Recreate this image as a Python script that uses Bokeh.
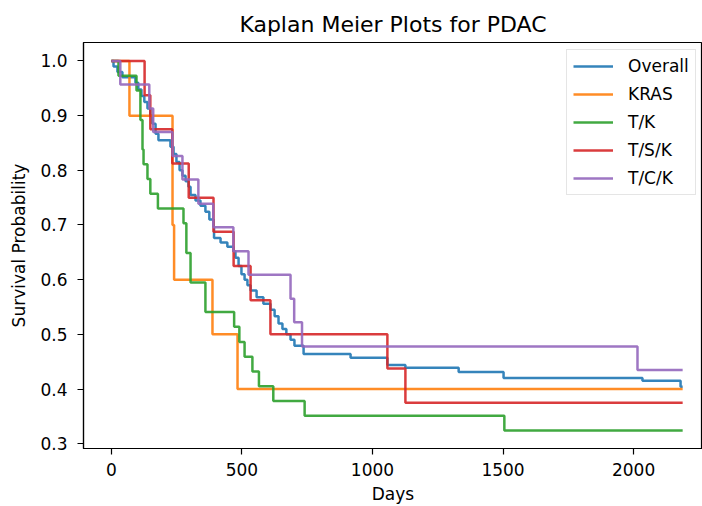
from bokeh.plotting import figure
from bokeh.models import Range1d, FixedTicker, PrintfTickFormatter, Legend, LegendItem
from bokeh.embed import file_html
from bokeh.resources import INLINE

# ---- data ----
overall_days = [0, 8, 23, 42, 92, 103, 115, 126, 138, 149, 157, 169, 180, 226, 238,
                249, 261, 272, 284, 295, 303, 322, 341, 360, 375, 391, 393, 418, 444, 467,
                475, 487, 498, 510, 521, 533, 556, 582, 609, 625, 640, 655, 670, 686, 701,
                736, 916, 1057, 1126, 1330, 1502, 2034, 2180, 2188]
overall_surv = [1.0, 0.99, 0.98, 0.97, 0.96, 0.948, 0.936, 0.925, 0.913, 0.9, 0.885, 0.867, 0.855, 0.843, 0.83,
                0.815, 0.80, 0.79, 0.78, 0.77, 0.755, 0.745, 0.735, 0.724, 0.71, 0.697, 0.676, 0.668, 0.66, 0.652,
                0.64, 0.625, 0.61, 0.6, 0.59, 0.58, 0.568, 0.556, 0.545, 0.533, 0.52, 0.51, 0.50, 0.49, 0.479,
                0.464, 0.457, 0.444, 0.439, 0.431, 0.42, 0.415, 0.404, 0.404]

kras_days = [0, 69, 234, 240, 387, 483, 2188]
kras_surv = [1.0, 0.9, 0.7, 0.6, 0.5, 0.4, 0.4]

tk_days = [0, 27, 96, 111, 119, 123, 138, 149, 178, 276, 287, 303, 360, 470, 490,
           510, 540, 565, 620, 740, 1505, 2188]
tk_surv = [1.0, 0.973, 0.946, 0.892, 0.838, 0.811, 0.784, 0.757, 0.730, 0.703, 0.649, 0.595, 0.541, 0.514, 0.486,
           0.459, 0.432, 0.405, 0.378, 0.351, 0.324, 0.324]

tsk_days = [0, 127, 149, 233, 296, 391, 468, 533, 609, 1057, 1126, 2188]
tsk_surv = [1.0, 0.9375, 0.875, 0.8125, 0.75, 0.6875, 0.625, 0.5625, 0.5, 0.4375, 0.375, 0.375]

tck_days = [0, 34, 145, 160, 234, 272, 333, 390, 467, 525, 686, 700, 730, 2015, 2188]
tck_surv = [1.0, 0.957, 0.913, 0.870, 0.826, 0.783, 0.739, 0.696, 0.652, 0.609, 0.565, 0.522, 0.478, 0.435, 0.435]

labels = ["Overall", "KRAS", "T/K", "T/S/K", "T/C/K"]
colors = ["#1f77b4", "#ff7f0e", "#2ca02c", "#d62728", "#9467bd"]
x_ticks = [0, 500, 1000, 1500, 2000]
y_ticks = [0.3, 0.4, 0.5, 0.6, 0.7, 0.8, 0.9, 1.0]

FONT = "DejaVu Sans"

p = figure(width=702, height=506, output_backend="svg", toolbar_location=None,
           title="Kaplan Meier Plots for PDAC",
           x_range=Range1d(-107, 2264), y_range=Range1d(0.29125, 1.03375),
           min_border_left=83, min_border_right=0, min_border_top=42, min_border_bottom=57)

p.title.align = "center"
p.title.text_font = FONT
p.title.text_font_size = "22px"
p.title.text_font_style = "normal"
p.title.text_color = "black"
p.title.standoff = 12

p.grid.visible = False
p.outline_line_color = "black"
p.outline_line_width = 1.2

for ax in (p.xaxis[0], p.yaxis[0]):
    ax.axis_line_color = "black"
    ax.axis_line_width = 1.2
    ax.major_tick_line_color = "black"
    ax.major_tick_line_width = 1.2
    ax.major_tick_out = 6
    ax.major_tick_in = 0
    ax.minor_tick_out = 0
    ax.minor_tick_line_color = None
    ax.major_label_text_font = FONT
    ax.major_label_text_font_size = "17px"
    ax.major_label_text_color = "black"
    ax.axis_label_text_font = FONT
    ax.axis_label_text_font_size = "17px"
    ax.axis_label_text_font_style = "normal"
    ax.axis_label_text_color = "black"

p.xaxis.ticker = FixedTicker(ticks=x_ticks)
p.yaxis.ticker = FixedTicker(ticks=y_ticks)
p.yaxis.formatter = PrintfTickFormatter(format="%.1f")
p.xaxis.axis_label = "Days"
p.yaxis.axis_label = "Survival Probability"
p.xaxis.major_label_standoff = 8
p.xaxis.axis_label_standoff = 5
p.yaxis.major_label_standoff = 10
p.yaxis.axis_label_standoff = 8

series = [(overall_days, overall_surv), (kras_days, kras_surv), (tk_days, tk_surv),
          (tsk_days, tsk_surv), (tck_days, tck_surv)]
items = []
for (d, s), lab, c in zip(series, labels, colors):
    r = p.step(d, s, mode="after", line_color=c, line_width=2.5, line_alpha=0.9)
    items.append(LegendItem(label=lab, renderers=[r]))

legend = Legend(items=items, location=(483, 253))
legend.label_text_font = FONT
legend.label_text_font_size = "17px"
legend.label_text_color = "black"
legend.glyph_width = 40
legend.glyph_height = 20
legend.label_height = 20
legend.label_standoff = 15
legend.spacing = 8
legend.padding = 6
legend.margin = 0
legend.border_line_color = "#cccccc"
legend.border_line_width = 1
legend.background_fill_color = "white"
legend.background_fill_alpha = 0.8
p.add_layout(legend)

open("out.html", "w").write(file_html(p, INLINE))
